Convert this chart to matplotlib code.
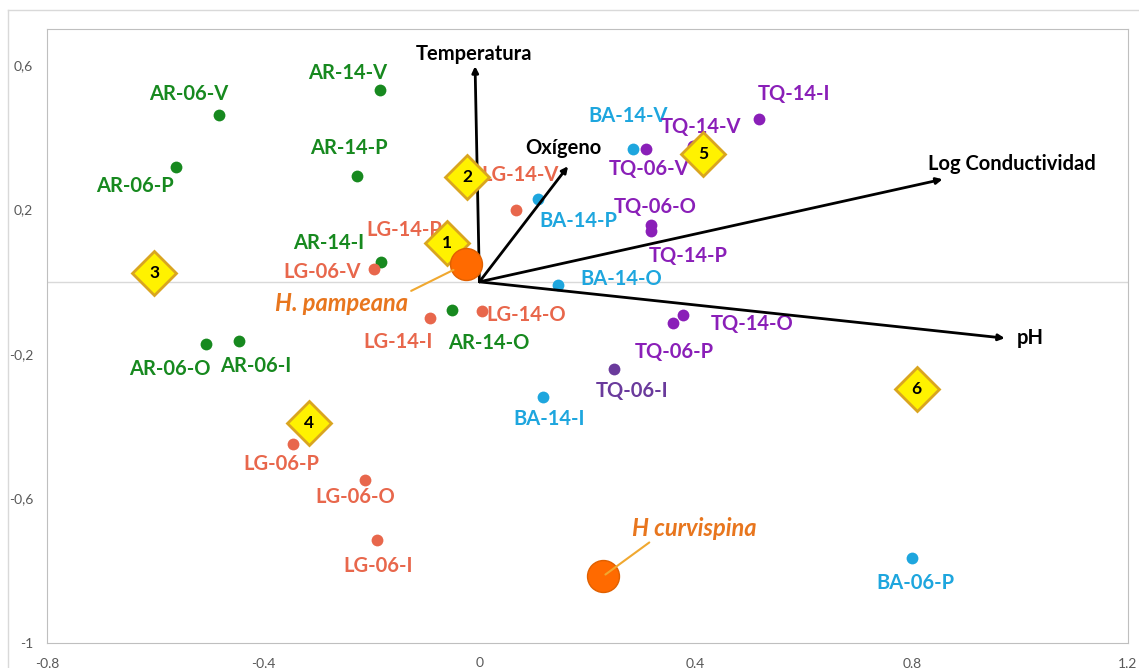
import numpy as np
import matplotlib
matplotlib.use('Agg')
import matplotlib.pyplot as plt
from matplotlib.ticker import FuncFormatter
from matplotlib.lines import Line2D

plt.rcParams['font.family'] = ['Lato', 'DejaVu Sans']

# Datos
ar_names = ['AR-06-V', 'AR-14-V', 'AR-06-P', 'AR-14-P', 'AR-14-I', 'AR-06-O', 'AR-06-I', 'AR-14-O']
ar_x = [-0.482, -0.184, -0.561, -0.226, -0.182, -0.506, -0.445, -0.051]
ar_y = [0.461, 0.530, 0.318, 0.293, 0.055, -0.171, -0.163, -0.078]

lg_names = ['LG-06-V', 'LG-14-P', 'LG-14-V', 'LG-14-I', 'LG-14-O', 'LG-06-P', 'LG-06-O', 'LG-06-I']
lg_x = [-0.195, -0.076, 0.068, -0.091, 0.004, -0.344, -0.212, -0.190]
lg_y = [0.036, 0.095, 0.198, -0.101, -0.080, -0.450, -0.550, -0.714]

ba_names = ['BA-14-V', 'BA-14-P', 'BA-14-O', 'BA-14-I', 'BA-06-P']
ba_x = [0.284, 0.108, 0.146, 0.117, 0.800]
ba_y = [0.367, 0.229, -0.008, -0.318, -0.766]

tq_names = ['TQ-14-I', 'TQ-14-V', 'TQ-06-V', 'TQ-06-O', 'TQ-14-P', 'TQ-14-O', 'TQ-06-P', 'TQ-06-I']
tq_x = [0.517, 0.395, 0.308, 0.317, 0.317, 0.377, 0.358, 0.249]
tq_y = [0.451, 0.375, 0.367, 0.157, 0.141, -0.091, -0.114, -0.241]

vec_names = ['Temperatura', 'Oxígeno', 'Log Conductividad', 'pH']
vec_x = [-0.008, 0.164, 0.857, 0.972]
vec_y = [0.597, 0.320, 0.284, -0.156]

grupo_nums = ['1', '2', '3', '4', '5', '6']
grupo_x = [-0.060, -0.023, -0.602, -0.315, 0.414, 0.809]
grupo_y = [0.108, 0.290, 0.025, -0.390, 0.354, -0.298]

especies = ['H. pampeana', 'H curvispina']
esp_x = [-0.025, 0.229]
esp_y = [0.050, -0.815]

# desplazamiento de etiquetas (pixeles)
offs = {
    'AR-06-V': (-30, 21), 'AR-14-V': (-32, 17), 'AR-06-P': (-41, -19), 'AR-14-P': (-8, 28),
    'AR-14-I': (-52, 19), 'AR-06-O': (-36, -25), 'AR-06-I': (17, -25), 'AR-14-O': (37, -33),
    'LG-06-V': (-52, -3), 'LG-14-P': (-34, 18), 'LG-14-V': (4, 35), 'LG-14-I': (-32, -24),
    'LG-14-O': (45, -4), 'LG-06-P': (-12, -20), 'LG-06-O': (-10, -17), 'LG-06-I': (1, -26),
    'BA-14-V': (-5, 33), 'BA-14-P': (41, -22), 'BA-14-O': (63, 6), 'BA-14-I': (6, -22),
    'BA-06-P': (4, -25),
    'TQ-14-I': (35, 25), 'TQ-14-V': (8, 19), 'TQ-06-V': (3, -20), 'TQ-06-O': (4, 18),
    'TQ-14-P': (38, -25), 'TQ-14-O': (69, -9), 'TQ-06-P': (1, -29), 'TQ-06-I': (18, -22),
    'Temperatura': (-1, 12), 'Oxígeno': (-5, 18), 'Log Conductividad': (69, 15), 'pH': (25, 0),
}

verde = '#17891F'
salmon = '#E8674C'
azul = '#1EA6DE'
morado = '#8A1FB8'
morado2 = '#6A3A9C'
naranjo = '#FF6A00'

fig = plt.figure(figsize=(11.39, 6.68), dpi=100)
ax = fig.add_axes([47 / 1139, 25 / 668, 1081 / 1139, 614 / 668])

# marco exterior del grafico
fig.add_artist(Line2D([8 / 1139, 1], [1 - 10 / 668, 1 - 10 / 668], color='#D9D9D9', lw=1))
fig.add_artist(Line2D([8 / 1139, 8 / 1139], [0, 1 - 10 / 668], color='#D9D9D9', lw=1))

ax.axhline(0, color='#D9D9D9', lw=1, zorder=0)


def puntos(nx, px, py, col, cols=None):
    for i, n in enumerate(nx):
        c = cols[i] if cols else col
        ax.plot(px[i], py[i], 'o', ms=8.5, color=c, mec='none', zorder=3)
        ax.annotate(n, (px[i], py[i]), xytext=offs[n], textcoords='offset pixels',
                    ha='center', va='center', fontsize=14.5, fontweight='bold', color=c, zorder=4)


puntos(ar_names, ar_x, ar_y, verde)
puntos(lg_names, lg_x, lg_y, salmon)
puntos(ba_names, ba_x, ba_y, azul)
puntos(tq_names, tq_x, tq_y, morado, [morado] * 7 + [morado2])

# vectores
for i, n in enumerate(vec_names):
    ax.annotate('', xy=(vec_x[i], vec_y[i]), xytext=(0, 0),
                arrowprops=dict(arrowstyle='-|>', color='black', lw=2, mutation_scale=9,
                                shrinkA=0, shrinkB=0), zorder=5)
    ax.annotate(n, (vec_x[i], vec_y[i]), xytext=offs[n], textcoords='offset pixels',
                ha='center', va='center', fontsize=14.5, fontweight='bold', color='black', zorder=5)

# grupos
for i, n in enumerate(grupo_nums):
    ax.plot(grupo_x[i], grupo_y[i], 'D', ms=22, color='#FFF200', mec='#D9A520', mew=2, zorder=6)
    ax.text(grupo_x[i], grupo_y[i], n, ha='center', va='center', fontsize=12.5,
            fontweight='bold', color='black', zorder=7)

# especies
esp_off = [(-124, -40), (91, 48)]
esp_rel = [(1, 1), (0.17, 0)]
for i, n in enumerate(especies):
    ax.plot(esp_x[i], esp_y[i], 'o', ms=23, color=naranjo, mec='#E06000', zorder=6.5)
    ax.annotate(n, (esp_x[i], esp_y[i]), xytext=esp_off[i], textcoords='offset pixels',
                ha='center', va='center', fontsize=17, fontweight='bold', style='italic',
                color='#E8761E', zorder=7,
                arrowprops=dict(arrowstyle='-', color='#F0A830', lw=1.5, shrinkA=0,
                                shrinkB=10 if i == 0 else 2, relpos=esp_rel[i]))

ax.set_xlim(-0.8, 1.2)
ax.set_ylim(-1, 0.7)
ax.set_xticks([-0.8, -0.4, 0, 0.4, 0.8, 1.2])
ax.set_yticks([-1, -0.6, -0.2, 0.2, 0.6])
fmt = FuncFormatter(lambda v, p: ('%g' % round(v, 1)).replace('.', ','))
ax.xaxis.set_major_formatter(fmt)
ax.yaxis.set_major_formatter(fmt)
ax.tick_params(length=0, labelsize=10, colors='#595959', pad=10)
for s in ax.spines.values():
    s.set_color('#BFBFBF')

fig.savefig('out.png', dpi=100)
